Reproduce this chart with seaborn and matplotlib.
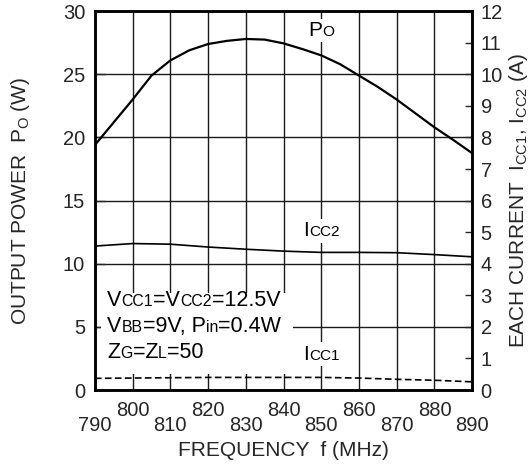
import matplotlib
matplotlib.use("Agg")
import matplotlib.pyplot as plt
from matplotlib.offsetbox import AnnotationBbox, HPacker, TextArea
import numpy as np
import pandas as pd
import seaborn as sns

# frequency grid (MHz) for the output power curve
freq_po = [790, 795, 800, 805, 810, 815, 820, 825, 830, 835, 840,
           845, 850, 855, 860, 865, 870, 875, 880, 885, 890]
po_w = [19.4, 21.2, 23.0, 24.9, 26.1, 26.9, 27.4, 27.65, 27.8, 27.75, 27.45,
        27.0, 26.5, 25.8, 24.9, 24.0, 23.0, 21.9, 20.8, 19.8, 18.75]

# currents (A), read every 10 MHz
freq_i = [790, 800, 810, 820, 830, 840, 850, 860, 870, 880, 890]
icc2_a = [4.56, 4.64, 4.62, 4.53, 4.46, 4.40, 4.36, 4.36, 4.35, 4.29, 4.22]
icc1_a = [0.37, 0.38, 0.39, 0.40, 0.40, 0.40, 0.40, 0.38, 0.34, 0.31, 0.26]

x_ticks_low = [790, 810, 830, 850, 870, 890]
x_ticks_high = [800, 820, 840, 860, 880]
y_left_ticks = [0, 5, 10, 15, 20, 25, 30]
y_right_ticks = list(range(0, 13))

# (text, is_small) pieces; small pieces mimic the datasheet's small-cap suffixes
cond_lines = [
    [("V", 0), ("CC1", 1), ("=V", 0), ("CC2", 1), ("=12.5V", 0)],
    [("V", 0), ("BB", 1), ("=9V, P", 0), ("in", 1), ("=0.4W", 0)],
    [("Z", 0), ("G", 1), ("=Z", 0), ("L", 1), ("=50", 0)],
]
cond_y = [7.1, 5.05, 3.0]
curve_labels = [
    [("P", 0), ("O", 1)],
    [("I", 0), ("CC2", 1)],
    [("I", 0), ("CC1", 1)],
]
curve_label_y = [28.5, 12.6, 2.85]

sns.set_style("white")
plt.rcParams["font.family"] = ["Liberation Sans", "DejaVu Sans"]
plt.rcParams["mathtext.fontset"] = "custom"
plt.rcParams["mathtext.rm"] = "Liberation Sans"

df_po = pd.DataFrame({"f": freq_po, "po": po_w})
df_i = pd.DataFrame({"f": freq_i, "icc2": icc2_a, "icc1": icc1_a})


def mixed_text(parts, size):
    kids = [TextArea(t, textprops=dict(fontsize=size * (0.74 if small else 1.0),
                                       color="black"))
            for t, small in parts]
    return HPacker(children=kids, align="baseline", pad=0, sep=0)


fig = plt.figure(figsize=(5.3, 4.66), dpi=100)
ax = fig.add_axes([0.179, 0.163, 0.712, 0.813])
ax2 = ax.twinx()

grid_c = "#1a1a1a"
for xv in x_ticks_low + x_ticks_high:
    ax.axvline(xv, color=grid_c, lw=1.0, zorder=0)
for yv in y_left_ticks:
    ax.axhline(yv, color=grid_c, lw=1.0, zorder=0)

sns.lineplot(data=df_po, x="f", y="po", ax=ax, color="black", lw=1.6, zorder=3)
sns.lineplot(data=df_i, x="f", y="icc2", ax=ax2, color="black", lw=1.2, zorder=3)
sns.lineplot(data=df_i, x="f", y="icc1", ax=ax2, color="black", lw=1.2,
             linestyle=(0, (4, 2)), zorder=3)

ax.set_xlim(790, 890)
ax.set_ylim(0, 30)
ax2.set_ylim(0, 12)

ax.set_xticks(x_ticks_low)
ax.set_xticklabels([str(v) for v in x_ticks_low])
ax.set_xticks(x_ticks_high, minor=True)
ax.set_xticklabels([str(v) for v in x_ticks_high], minor=True)
ax.tick_params(axis="x", which="major", length=0, pad=19, labelsize=14.5)
ax.tick_params(axis="x", which="minor", length=0, pad=8, labelsize=14.5)

ax.set_yticks(y_left_ticks)
ax.tick_params(axis="y", direction="in", length=7, width=1, pad=7, labelsize=14.5)
ax2.set_yticks(y_right_ticks)
ax2.tick_params(axis="y", direction="in", length=5, width=1, pad=6, labelsize=14.5)

ax.set_xlabel("FREQUENCY  f (MHz)", fontsize=15, labelpad=4)
ax.set_ylabel(r"OUTPUT POWER  $\mathregular{P_O}$ (W)", fontsize=15, labelpad=22)
ax2.set_ylabel(r"EACH CURRENT  $\mathregular{I_{CC1}}$, $\mathregular{I_{CC2}}$ (A)",
               fontsize=15, labelpad=3)

for a in (ax, ax2):
    for s in a.spines.values():
        s.set_linewidth(1.8)
        s.set_color("black")

# white patch behind the test conditions (cuts the grid like the original)
ax.add_patch(plt.Rectangle((791.5, 1.3), 51, 6.4, facecolor="white",
                           edgecolor="none", zorder=1))
for parts, yc in zip(cond_lines, cond_y):
    ab = AnnotationBbox(mixed_text(parts, 15.5), (793.3, yc), xycoords="data",
                        box_alignment=(0, 0.5), frameon=False, pad=0)
    ab.set_zorder(2)
    ax.add_artist(ab)

for parts, yc in zip(curve_labels, curve_label_y):
    ab = AnnotationBbox(mixed_text(parts, 15), (850, yc), xycoords="data",
                        box_alignment=(0.5, 0.5), frameon=True, pad=0.15,
                        bboxprops=dict(facecolor="white", edgecolor="none"))
    ab.set_zorder(2)
    ax.add_artist(ab)

ax.set_zorder(ax2.get_zorder() - 1)
ax.patch.set_visible(True)
ax2.patch.set_visible(False)

fig.savefig("out.png", dpi=100)
